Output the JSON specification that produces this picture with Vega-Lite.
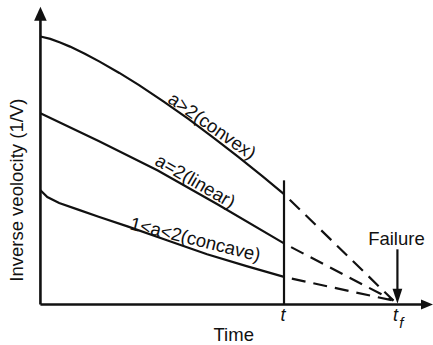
{
  "$schema": "https://vega.github.io/schema/vega-lite/v6.json",
  "width": 433,
  "height": 345,
  "autosize": {"type": "fit", "contains": "padding"},
  "padding": 0,
  "background": "white",
  "config": {"view": {"stroke": null}},
  "datasets": {
    "curves": [
      {"series": "convex", "time": 0, "v": 272},
      {"series": "convex", "time": 10, "v": 269.5},
      {"series": "convex", "time": 20, "v": 265.9},
      {"series": "convex", "time": 30, "v": 261.7},
      {"series": "convex", "time": 45, "v": 254.5},
      {"series": "convex", "time": 60, "v": 246.5},
      {"series": "convex", "time": 80, "v": 235},
      {"series": "convex", "time": 100, "v": 222.6},
      {"series": "convex", "time": 125, "v": 205.9},
      {"series": "convex", "time": 150, "v": 188.3},
      {"series": "convex", "time": 175, "v": 169.7},
      {"series": "convex", "time": 200, "v": 150.3},
      {"series": "convex", "time": 225, "v": 130.2},
      {"series": "convex", "time": 247, "v": 112},
      {"series": "linear", "time": 0, "v": 194},
      {"series": "linear", "time": 59, "v": 166},
      {"series": "linear", "time": 119, "v": 136},
      {"series": "linear", "time": 179, "v": 102},
      {"series": "linear", "time": 247, "v": 62},
      {"series": "concave", "time": 0, "v": 116},
      {"series": "concave", "time": 7, "v": 109},
      {"series": "concave", "time": 19, "v": 103},
      {"series": "concave", "time": 39, "v": 96},
      {"series": "concave", "time": 59, "v": 89},
      {"series": "concave", "time": 89, "v": 79},
      {"series": "concave", "time": 129, "v": 65},
      {"series": "concave", "time": 169, "v": 51},
      {"series": "concave", "time": 209, "v": 39},
      {"series": "concave", "time": 247, "v": 28}
    ],
    "dashed": [
      {"series": "convex", "time": 247, "v": 112},
      {"series": "convex", "time": 358, "v": 4},
      {"series": "linear", "time": 247, "v": 62},
      {"series": "linear", "time": 358, "v": 4},
      {"series": "concave", "time": 247, "v": 28},
      {"series": "concave", "time": 358, "v": 4}
    ],
    "axes": [
      {"name": "yaxis", "time": 0, "v": 0, "time2": 0, "v2": 296},
      {"name": "xaxis", "time": 0, "v": 0, "time2": 387, "v2": 0}
    ],
    "guides": [
      {"name": "t", "time": 247, "v": 0, "time2": 247, "v2": 126},
      {"name": "failure", "time": 362, "v": 56, "time2": 362, "v2": 12}
    ],
    "arrows": [
      {"name": "up", "time": 0, "v": 295},
      {"name": "right", "time": 392, "v": 0},
      {"name": "down", "time": 362, "v": 8.5}
    ],
    "labels": [
      {"name": "convex", "text": "a>2(convex)", "time": 174, "v": 181},
      {"name": "linear", "text": "a=2(linear)", "time": 157, "v": 125},
      {"name": "concave", "text": "1<a<2(concave)", "time": 157, "v": 66},
      {"name": "failure", "text": "Failure", "time": 361, "v": 66},
      {"name": "time", "text": "Time", "time": 196, "v": -31},
      {"name": "ytitle", "text": "Inverse veolocity (1/V)", "time": -24, "v": 116},
      {"name": "t", "text": "t", "time": 246, "v": -12},
      {"name": "tf", "text": "t", "time": 360, "v": -12},
      {"name": "f", "text": "f", "time": 366, "v": -19}
    ]
  },
  "encoding": {
    "x": {"field": "time", "type": "quantitative", "scale": {"domain": [-41, 392], "nice": false, "zero": false}, "axis": null},
    "y": {"field": "v", "type": "quantitative", "scale": {"domain": [-36, 309], "nice": false, "zero": false}, "axis": null}
  },
  "layer": [
    {
      "data": {"name": "curves"},
      "mark": {"type": "line", "color": "#111111", "strokeWidth": 2.2},
      "encoding": {"detail": {"field": "series"}}
    },
    {
      "data": {"name": "dashed"},
      "mark": {"type": "line", "color": "#111111", "strokeWidth": 2.2, "strokeDash": [14, 8], "strokeDashOffset": 14},
      "encoding": {"detail": {"field": "series"}}
    },
    {
      "data": {"name": "axes"},
      "mark": {"type": "rule", "color": "#111111", "strokeWidth": 2.6},
      "encoding": {"x2": {"field": "time2"}, "y2": {"field": "v2"}}
    },
    {
      "data": {"name": "guides"},
      "mark": {"type": "rule", "color": "#111111", "strokeWidth": 2.2},
      "encoding": {"x2": {"field": "time2"}, "y2": {"field": "v2"}}
    },
    {
      "data": {"name": "arrows"},
      "transform": [{"filter": "datum.name === 'up'"}],
      "mark": {"type": "point", "shape": "M0,-1L0.9,1L-0.9,1Z", "size": 196, "filled": true, "color": "#111111", "opacity": 1, "strokeWidth": 0}
    },
    {
      "data": {"name": "arrows"},
      "transform": [{"filter": "datum.name === 'right'"}],
      "mark": {"type": "point", "shape": "M1,0L-1,-0.85L-1,0.85Z", "size": 144, "filled": true, "color": "#111111", "opacity": 1, "strokeWidth": 0}
    },
    {
      "data": {"name": "arrows"},
      "transform": [{"filter": "datum.name === 'down'"}],
      "mark": {"type": "point", "shape": "M0,1L-0.65,-1L0.65,-1Z", "size": 225, "filled": true, "color": "#111111", "opacity": 1, "strokeWidth": 0}
    },
    {
      "data": {"name": "labels"},
      "transform": [{"filter": "datum.name === 'convex'"}],
      "mark": {"type": "text", "font": "Liberation Sans", "fontSize": 18.5, "angle": 35, "align": "center", "baseline": "middle", "color": "#111111"},
      "encoding": {"text": {"field": "text"}}
    },
    {
      "data": {"name": "labels"},
      "transform": [{"filter": "datum.name === 'linear'"}],
      "mark": {"type": "text", "font": "Liberation Sans", "fontSize": 18.5, "angle": 30, "align": "center", "baseline": "middle", "color": "#111111"},
      "encoding": {"text": {"field": "text"}}
    },
    {
      "data": {"name": "labels"},
      "transform": [{"filter": "datum.name === 'concave'"}],
      "mark": {"type": "text", "font": "Liberation Sans", "fontSize": 18.5, "angle": 14, "align": "center", "baseline": "middle", "color": "#111111"},
      "encoding": {"text": {"field": "text"}}
    },
    {
      "data": {"name": "labels"},
      "transform": [{"filter": "datum.name === 'failure' || datum.name === 'time'"}],
      "mark": {"type": "text", "font": "Liberation Sans", "fontSize": 18.5, "align": "center", "baseline": "middle", "color": "#111111"},
      "encoding": {"text": {"field": "text"}}
    },
    {
      "data": {"name": "labels"},
      "transform": [{"filter": "datum.name === 'ytitle'"}],
      "mark": {"type": "text", "font": "Liberation Sans", "fontSize": 18.5, "angle": 270, "align": "center", "baseline": "middle", "color": "#111111"},
      "encoding": {"text": {"field": "text"}}
    },
    {
      "data": {"name": "labels"},
      "transform": [{"filter": "datum.name === 't' || datum.name === 'tf'"}],
      "mark": {"type": "text", "font": "Liberation Sans", "fontSize": 18, "fontStyle": "italic", "align": "center", "baseline": "middle", "color": "#111111"},
      "encoding": {"text": {"field": "text"}}
    },
    {
      "data": {"name": "labels"},
      "transform": [{"filter": "datum.name === 'f'"}],
      "mark": {"type": "text", "font": "Liberation Sans", "fontSize": 15, "fontStyle": "italic", "align": "center", "baseline": "middle", "color": "#111111"},
      "encoding": {"text": {"field": "text"}}
    }
  ]
}
